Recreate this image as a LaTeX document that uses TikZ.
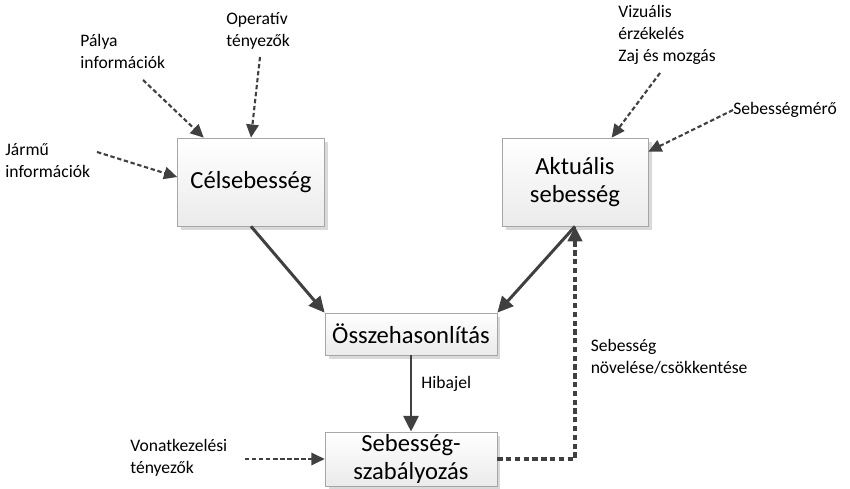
\documentclass[tikz,border=0pt]{standalone}
\usepackage{fontspec}
\setmainfont{Carlito}
\usetikzlibrary{arrows.meta, positioning, calc, shadows}
\definecolor{linegray}{HTML}{404040}
\definecolor{boxedge}{HTML}{A6A6A6}
\tikzset{
	box/.style={draw=boxedge, top color=white, bottom color=gray!16, align=center, inner sep=0pt,
		font=\fontsize{14}{16}\selectfont,
		drop shadow={shadow xshift=2pt, shadow yshift=-2pt, opacity=0.3, fill=gray}},
	lbl/.style={font=\fontsize{10}{12.5}\selectfont, align=left, inner sep=0pt},
	flow/.style={draw=linegray, line width=1.7pt, -{Triangle[length=9pt,width=8.5pt]}},
	info/.style={draw=linegray, line width=1.2pt, dash pattern=on 2.5pt off 1.5pt, -{Triangle[length=7.5pt,width=7pt]}},
	feedback/.style={draw=linegray, line width=2pt, dash pattern=on 3pt off 2pt, -{Triangle[length=8.5pt,width=8pt]}}
}

\begin{document}
\begin{tikzpicture}[x=0.02cm, y=-0.02cm]
		\useasboundingbox (0,0) rectangle (850,489);
		% boxes
		\node[box, minimum width=2.94cm, minimum height=1.76cm] (cel) at (251,182) {Célsebesség};
		\node[box, minimum width=2.92cm, minimum height=1.76cm] (akt) at (575,182) {Aktuális\\sebesség};
		\node[box, minimum width=3.44cm, minimum height=0.84cm] (ossz) at (411,334) {Összehasonlítás};
		\node[box, minimum width=3.44cm, minimum height=1.08cm] (szab) at (411,459) {Sebesség-\\szabályozás};

		% inputs
		\node[lbl, anchor=west] (jarmu) at (5,161) {Jármű\\információk};
		\node[lbl, anchor=west] (palya) at (80,51) {Pálya\\információk};
		\node[lbl, anchor=west] (operativ) at (226,31) {Operatív\\tényezők};
		\node[lbl, anchor=west] (vizualis) at (618,35) {Vizuális\\érzékelés\\Zaj és mozgás};
		\node[lbl, anchor=west] (mero) at (733,110) {Sebességmérő};
		\node[lbl, anchor=west] (vonat) at (130,458) {Vonatkezelési\\tényezők};

		\coordinate (jarmu-s) at (97,152);
		\coordinate (palya-s) at (143,80);
		\coordinate (operativ-s) at (260,57);
		\coordinate (vizualis-s) at (660,73);
		\coordinate (vonat-s) at (245,459);

		\draw[info] (jarmu-s) -- ($(cel.west)+(0,-5)$);
		\draw[info] (palya-s) -- ($(cel.north west)!0.18!(cel.north east)$);
		\draw[info] (operativ-s) -- (cel.north);
		\draw[info] (vizualis-s) -- ($(akt.north)!0.5!(akt.north east)$);
		\draw[info] (mero.west) -- ($(akt.north east)+(0,14)$);
		\draw[info] (vonat-s) -- (szab.west);

		% main flow
		\draw[flow] (cel.south) -- (ossz.north west);
		\draw[flow] (akt.south) -- (ossz.north east);
		\draw[flow] (ossz) -- node[lbl, pos=0.38, right=0.18cm] {Hibajel} (szab);
		\draw[feedback] (szab.east) -| node[lbl, pos=0.72, right=0.28cm] {Sebesség\\növelése/csökkentése} (akt.south);
	\end{tikzpicture}
\end{document}
